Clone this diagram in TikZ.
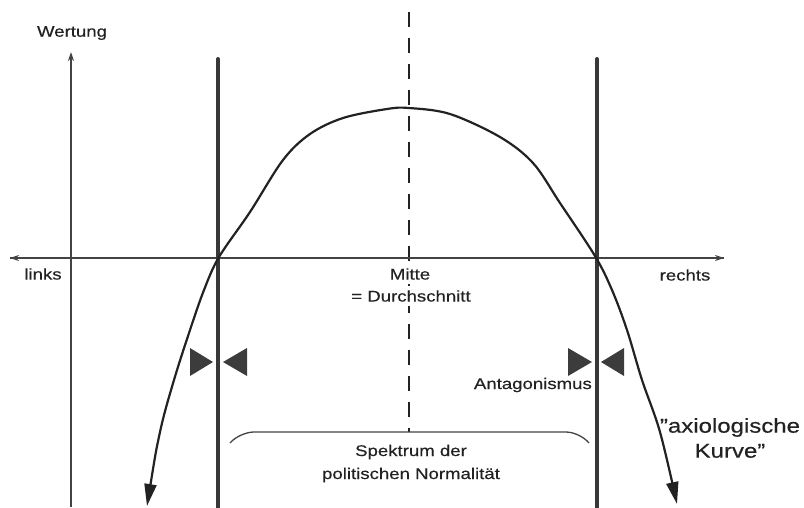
\documentclass[tikz,border=0pt]{standalone}
\usepackage{fontspec}
\setmainfont[FakeStretch=1.2,FakeBold=0.4]{Liberation Sans}
\usetikzlibrary{arrows.meta}
\definecolor{ink}{HTML}{222222}
\definecolor{tri}{HTML}{3C3C3C}
\tikzset{
  axis/.style={line width=1.4pt, draw=ink!85, -{Stealth[length=9pt,width=6pt]}},
  bar/.style={line width=4pt, draw=ink!90, line cap=round},
  curve/.style={line width=2.2pt, draw=ink, line join=round},
  lbl/.style={text=ink, font=\fontsize{15.5}{18}\selectfont, inner sep=0pt},
  biglbl/.style={text=ink, font=\fontsize{20}{25}\selectfont, inner sep=0pt, align=center},
  wedge/.style={fill=tri, draw=none},
}
\begin{document}
\begin{tikzpicture}[x=1pt,y=-1pt]
\useasboundingbox (0,0) rectangle (804,507);
% axes
\coordinate (xl) at (10,258);
\coordinate (xr) at (724,258);
\coordinate (yb) at (71,507);
\coordinate (yt) at (71,52);
% dashed middle line
\coordinate (mt) at (409,12);
\coordinate (mb) at (409,432);
\draw[line width=2pt, draw=ink, dash pattern=on 15pt off 11pt] (mt) -- (mb);
\draw[axis] (xr) -- (xl);
\draw[axis] (xl) -- (xr);
\draw[axis] (yb) -- (yt);
% thick boundary lines
\coordinate (lt) at (218,59);
\coordinate (lb) at (218,509);
\coordinate (rt) at (597,59);
\coordinate (rb) at (597,509);
\draw[bar] (lt) -- (lb);
\draw[bar] (rt) -- (rb);
% axiological curve
\draw[curve, {Triangle[length=22pt,width=12pt]}-{Triangle[length=22pt,width=12pt]}]
  plot[smooth, tension=0.55] coordinates {
   (147,506) (160,432) (174,380) (190,330) (204,290) (219,257) (250,212)
   (283,160) (310,134) (343,118) (387,109) (409,108) (450,114) (500,137)
   (533,163) (560,203) (595,256) (612,290) (627,330) (642,380) (660,432) (677,504)};
% antagonism wedges
\fill[wedge] (190,348) -- (213,362) -- (190,376) -- cycle;
\fill[wedge] (247,348) -- (223,362) -- (247,376) -- cycle;
\fill[wedge] (568,348) -- (592,362) -- (568,376) -- cycle;
\fill[wedge] (624,348) -- (601,362) -- (624,376) -- cycle;
% bracket
\coordinate (bl) at (230,443);
\coordinate (br) at (589,443);
\draw[line width=1.3pt, draw=ink!85, rounded corners=14pt] (bl) -- (240,432) -- (580,432) -- (br);
% labels
\node[lbl] (wertung) at (72,33) {Wertung};
\node[lbl] (links) at (43,274) {links};
\node[lbl] (rechts) at (685,275) {rechts};
\node[lbl, fill=white, inner sep=4pt] (durch) at (411,296) {= Durchschnitt};
\node[lbl, fill=white, inner sep=4pt] (mitte) at (410,274) {Mitte};
\node[lbl, anchor=east] (antag) at (592,385) {Antagonismus};
\node[lbl] (spek1) at (411,452) {Spektrum der};
\node[lbl] (spek2) at (411,475) {politischen Normalität};
\node[biglbl] (axio) at (730,438) {\symbol{34}axiologische\\Kurve\symbol{34}};
\end{tikzpicture}
\end{document}
